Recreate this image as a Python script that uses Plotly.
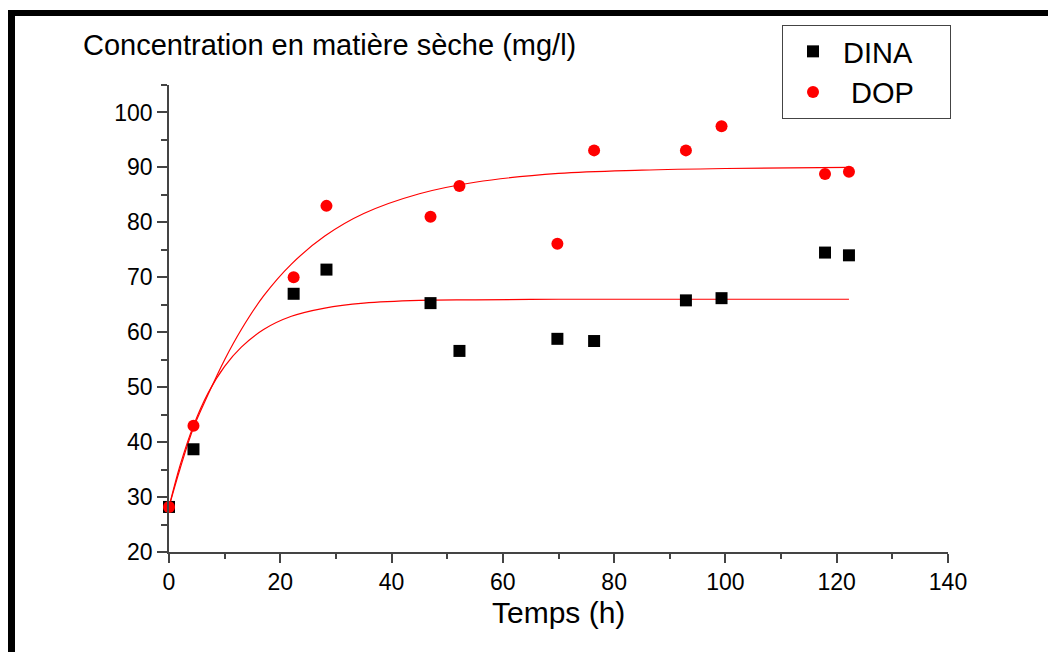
import plotly.graph_objects as go

# Data
time_h = [0, 4.4, 22.4, 28.3, 47.0, 52.2, 69.8, 76.4, 92.9, 99.3, 117.9, 122.2]
dina = [28.2, 38.7, 67.0, 71.4, 65.3, 56.6, 58.8, 58.4, 65.8, 66.2, 74.5, 74.0]
dop = [28.2, 43.0, 70.0, 83.0, 81.0, 86.6, 76.1, 93.1, 93.1, 97.5, 88.8, 89.2]

# Fitted curves, sampled by reading the picture
fit_t = [0, 2, 4.4, 7, 10, 13, 17, 22, 28, 35, 45, 55, 70, 85, 100, 122.2]
fit_dina = [28.2, 35.8, 43.0, 48.9, 53.8, 57.3, 60.5, 62.9, 64.4, 65.3, 65.8, 65.9, 66.0, 66.0, 66.0, 66.0]
fit_dop = [28.2, 35.2, 42.6, 48.6, 55.0, 60.5, 66.6, 72.4, 77.5, 81.6, 85.2, 87.3, 88.9, 89.5, 89.8, 90.0]

x_ticks = [0, 20, 40, 60, 80, 100, 120, 140]
y_ticks = [20, 30, 40, 50, 60, 70, 80, 90, 100]

FONT = "Liberation Sans, Arial, sans-serif"

# plot area geometry in pixels
L, R, T, B = 169, 100, 85, 100
W, H = 1048, 652
PW, PH = W - L - R, H - T - B


def px_x(px):
    return (px - L) / PW


def px_y(py):
    return (H - B - py) / PH


NB = "\u00a0"

fig = go.Figure()
fig.add_trace(go.Scatter(x=fit_t, y=fit_dina, mode="lines", line=dict(color="#ff0000", width=1.2, shape="spline"),
                         showlegend=False, hoverinfo="skip", cliponaxis=False))
fig.add_trace(go.Scatter(x=fit_t, y=fit_dop, mode="lines", line=dict(color="#ff0000", width=1.2, shape="spline"),
                         showlegend=False, hoverinfo="skip", cliponaxis=False))
fig.add_trace(go.Scatter(x=time_h, y=dina, mode="markers", name="DINA" + NB * 4, cliponaxis=False,
                         marker=dict(symbol="square", size=12, color="black", line=dict(width=0))))
fig.add_trace(go.Scatter(x=time_h, y=dop, mode="markers", name=NB + "DOP", cliponaxis=False,
                         marker=dict(symbol="circle", size=12, color="#ff0000", line=dict(width=0))))

axis_common = dict(showgrid=False, zeroline=False, showline=True, linecolor="#444444", linewidth=1.5,
                   ticks="outside", tickcolor="#444444", tickwidth=1.5,
                   tickfont=dict(family=FONT, size=23, color="black"))

fig.update_xaxes(range=[0, 140], tickvals=x_ticks, ticklen=9,
                 minor=dict(dtick=10, tick0=0, ticks="outside", ticklen=5, tickcolor="#444444", tickwidth=1.5),
                 **axis_common)
fig.update_yaxes(range=[20, 105], tickvals=y_ticks, ticklen=10,
                 minor=dict(dtick=5, tick0=0, ticks="outside", ticklen=6, tickcolor="#444444", tickwidth=1.5),
                 **axis_common)

fig.update_layout(
    width=W, height=H,
    margin=dict(l=L, r=R, t=T, b=B, autoexpand=False),
    paper_bgcolor="white", plot_bgcolor="white",
    font=dict(family=FONT, color="black"),
    legend=dict(x=px_x(782), y=px_y(25), xanchor="left", yanchor="top",
                bgcolor="white", bordercolor="#444444", borderwidth=1,
                font=dict(family=FONT, size=29, color="black"), itemwidth=50),
    annotations=[
        dict(text="Concentration en matière sèche (mg/l)", xref="paper", yref="paper",
             x=px_x(81), y=px_y(45), xanchor="left", yanchor="middle", showarrow=False,
             font=dict(family=FONT, size=29, color="black")),
        dict(text="Temps (h)", xref="paper", yref="paper",
             x=0.5, y=px_y(612), xanchor="center", yanchor="middle", showarrow=False,
             font=dict(family=FONT, size=30, color="black")),
    ],
    shapes=[
        dict(type="rect", xref="paper", yref="paper", x0=px_x(8), x1=px_x(W + 5), y0=px_y(10), y1=px_y(16),
             fillcolor="black", line=dict(width=0), layer="above"),
        dict(type="rect", xref="paper", yref="paper", x0=px_x(8), x1=px_x(15), y0=px_y(10), y1=px_y(H + 5),
             fillcolor="black", line=dict(width=0), layer="above"),
    ],
)

fig.write_html("out.html")
